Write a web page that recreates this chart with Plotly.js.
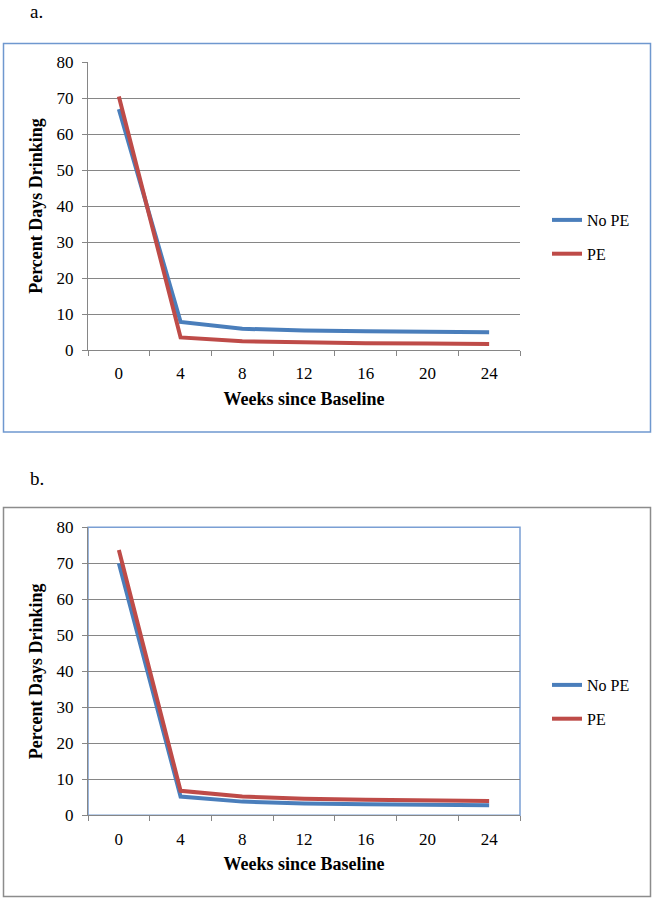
<!DOCTYPE html>
<html>
<head>
<meta charset="utf-8">
<script src="https://cdn.plot.ly/plotly-3.0.1.min.js"></script>
<style>
html,body{margin:0;padding:0;background:#fff;}
#chart{width:654px;height:900px;}
</style>
</head>
<body>
<div id="chart"></div>
<script>
// ---- data ----
const weeks = ["0", "4", "8", "12", "16", "20", "24"];
const yTicks = [0, 10, 20, 30, 40, 50, 60, 70, 80];
const seriesNames = ["No PE", "PE"];
// panel a
const aNoPE = [66.9, 7.8, 5.9, 5.4, 5.2, 5.0, 4.9];
const aPE   = [70.4, 3.5, 2.4, 2.1, 1.9, 1.8, 1.7];
// panel b
const bNoPE = [70.0, 5.2, 3.8, 3.3, 3.1, 2.9, 2.8];
const bPE   = [73.7, 6.8, 5.2, 4.6, 4.3, 4.2, 4.0];
const panelLabels = ["a.", "b."];
const xTitle = "Weeks since Baseline";
const yTitle = "Percent Days Drinking";

// ---- styling ----
const W = 654, H = 900;
const blue = "#4a7ebb", red = "#be4b48";
const serif = "Liberation Serif, Times New Roman, serif";
const px = (x) => x / W;
const py = (y) => 1 - y / H;

const plotL = 88, plotR = 520;
const aTop = 62, aBot = 350;
const bTop = 527.3, bBot = 815.3;

function mkTrace(y, name, color, xa, ya, leg) {
  return {
    x: weeks, y: y, name: name, type: "scatter", mode: "lines",
    line: {color: color, width: 4},
    xaxis: xa, yaxis: ya, legend: leg, legendgroup: leg + name
  };
}

const data = [
  mkTrace(aNoPE, seriesNames[0], blue, "x", "y", "legend"),
  mkTrace(aPE, seriesNames[1], red, "x", "y", "legend"),
  mkTrace(bNoPE, seriesNames[0], blue, "x2", "y2", "legend2"),
  mkTrace(bPE, seriesNames[1], red, "x2", "y2", "legend2")
];

function xaxisDef(anchor) {
  return {
    domain: [px(plotL), px(plotR)], anchor: anchor, type: "category",
    range: [-0.5, 6.5], tickson: "boundaries", ticks: "outside", ticklen: 5,
    tickcolor: "#868686", showline: true, linecolor: "#868686", linewidth: 1,
    showgrid: false, zeroline: false, fixedrange: true,
    ticklabelstandoff: 8,
    tickfont: {family: serif, size: 17, color: "#000"},
    title: {text: "<b>" + xTitle + "</b>", font: {family: serif, size: 18, color: "#000"}, standoff: 9}
  };
}
function yaxisDef(anchor, dom) {
  return {
    domain: dom, anchor: anchor, range: [0, 80], tickvals: yTicks,
    ticks: "outside", ticklen: 5, tickcolor: "#868686",
    showline: true, linecolor: "#868686", linewidth: 1,
    showgrid: true, gridcolor: "#868686", gridwidth: 1, zeroline: false,
    fixedrange: true,
    ticklabelstandoff: 5,
    tickfont: {family: serif, size: 17, color: "#000"},
    title: {text: "<b>" + yTitle + "</b>", font: {family: serif, size: 18, color: "#000"}, standoff: 9}
  };
}
function legendDef(yc) {
  return {
    x: px(547), xanchor: "left", y: py(yc), yanchor: "middle",
    bgcolor: "rgba(0,0,0,0)", borderwidth: 0,
    font: {family: serif, size: 16, color: "#000"},
    traceorder: "grouped", tracegroupgap: 10, itemwidth: 30
  };
}

const layout = {
  width: W, height: H,
  margin: {l: 0, r: 0, t: 0, b: 0},
  paper_bgcolor: "#fff", plot_bgcolor: "rgba(0,0,0,0)",
  showlegend: true,
  xaxis: xaxisDef("y"),
  yaxis: yaxisDef("x", [py(aBot), py(aTop)]),
  xaxis2: xaxisDef("y2"),
  yaxis2: yaxisDef("x2", [py(bBot), py(bTop)]),
  legend: legendDef(237),
  legend2: legendDef(702),
  shapes: [
    {type: "rect", xref: "paper", yref: "paper", x0: px(3.5), x1: px(650.5), y0: py(432), y1: py(43.5),
     line: {color: "#6f98cf", width: 1.5}, fillcolor: "rgba(0,0,0,0)", layer: "below"},
    {type: "rect", xref: "paper", yref: "paper", x0: px(3.5), x1: px(650.5), y0: py(896.5), y1: py(507.5),
     line: {color: "#8c8c8c", width: 1.5}, fillcolor: "rgba(0,0,0,0)", layer: "below"},
    {type: "rect", xref: "paper", yref: "paper", x0: px(plotL), x1: px(plotR), y0: py(bBot), y1: py(bTop),
     line: {color: "#7a9fd4", width: 1.5}, fillcolor: "rgba(0,0,0,0)", layer: "below"}
  ],
  annotations: [
    {text: panelLabels[0], xref: "paper", yref: "paper", x: px(28), y: py(12), xanchor: "left", yanchor: "middle",
     showarrow: false, font: {family: serif, size: 19, color: "#000"}},
    {text: panelLabels[1], xref: "paper", yref: "paper", x: px(28), y: py(478), xanchor: "left", yanchor: "middle",
     showarrow: false, font: {family: serif, size: 19, color: "#000"}}
  ]
};

Plotly.newPlot("chart", data, layout, {displayModeBar: false, staticPlot: true});
</script>
</body>
</html>
